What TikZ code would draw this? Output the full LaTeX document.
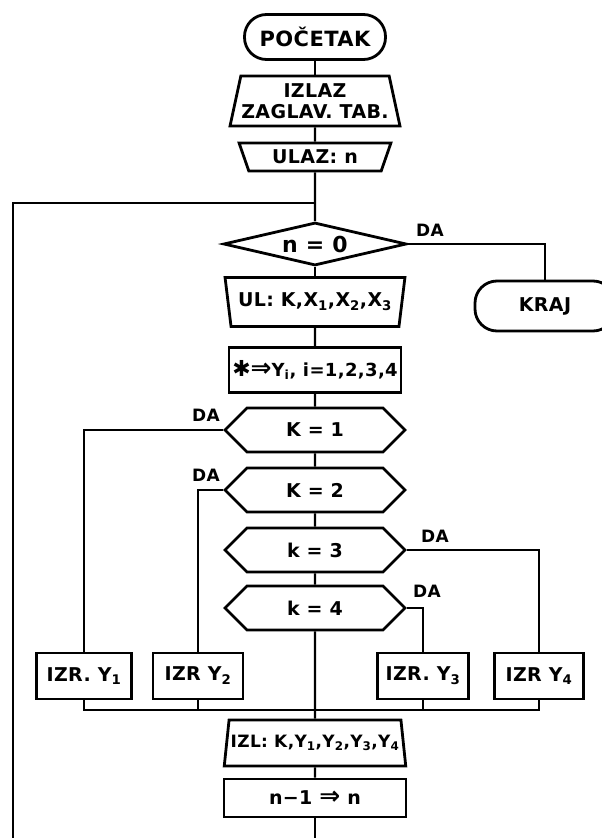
\documentclass[tikz,border=0pt]{standalone}
\usepackage{fontspec}
\setmainfont[LetterSpace=2]{DejaVu Sans}
\usetikzlibrary{positioning,shapes.geometric,shapes.symbols}

\newcommand{\bigimpl}{{\fontsize{25}{25}\selectfont ⇒}}

\begin{document}
\begin{tikzpicture}[
  x=1pt, y=-1pt,
  font=\fontsize{19}{21}\selectfont\bfseries,
  term/.style={draw, line width=2.8pt, rounded corners=22pt,
    minimum width=141pt, minimum height=45pt},
  outbox/.style={draw, line width=2.8pt, trapezium, trapezium stretches=true,
    trapezium left angle=73, trapezium right angle=73, align=center, inner sep=0pt},
  inbox/.style={outbox, shape border rotate=180},
  procbox/.style={draw, line width=2.8pt, minimum height=45pt, inner sep=1pt},
  cond/.style={draw, line width=2.8pt, diamond, aspect=4, inner sep=0pt,
    minimum width=183pt, minimum height=43pt},
  kcond/.style={draw, line width=2.8pt, signal, signal to=west and east,
    signal pointer angle=90, inner sep=0pt, minimum width=180pt, minimum height=44pt},
  wire/.style={line width=2.2pt},
  dalabel/.style={font=\fontsize{17}{18}\selectfont\bfseries, inner sep=1pt}
]
\useasboundingbox (0,0) rectangle (602,838);

% main column
\node[term, font=\fontsize{21}{23}\selectfont\bfseries] (start) at (315,37) {POČETAK};
\node[outbox, minimum width=170pt, minimum height=50pt] (izlaz) at (315,101) {IZLAZ\\ZAGLAV. TAB.};
\node[inbox, trapezium left angle=66, trapezium right angle=66,
  minimum width=153pt, minimum height=28pt] (ulaz) at (315,157) {ULAZ: n};
\coordinate (join) at (315,203);
\node[cond, font=\fontsize{22}{24}\selectfont\bfseries] (n0) at (315,244) {n = 0};
\node[term, minimum width=140pt, minimum height=50pt] (kraj) at (545,306) {KRAJ};
\node[inbox, minimum width=180pt, minimum height=49pt] (ul) at (315,302)
  {UL: K,X\textsubscript{1},X\textsubscript{2},X\textsubscript{3}};
\node[procbox, minimum width=172pt, font=\fontsize{18}{20}\selectfont\bfseries] (star) at (315,370)
  {{\fontsize{22}{22}\selectfont ✱}\bigimpl Y\textsubscript{i}, i=1,2,3,4};
\node[kcond] (k1) at (315,430) {K = 1};
\node[kcond] (k2) at (315,490) {K = 2};
\node[kcond] (k3) at (315,550) {k = 3};
\node[kcond] (k4) at (315,608) {k = 4};

% outputs
\node[procbox, minimum width=95pt, minimum height=46pt] (izr1) at (84,676) {IZR. Y\textsubscript{1}};
\node[procbox, minimum width=90pt, minimum height=46pt] (izr2) at (198,676) {IZR Y\textsubscript{2}};
\node[procbox, minimum width=91pt, minimum height=46pt] (izr3) at (423,676) {IZR. Y\textsubscript{3}};
\node[procbox, minimum width=89pt, minimum height=46pt] (izr4) at (539,676) {IZR Y\textsubscript{4}};
\coordinate (bus) at (315,710);

\node[outbox, minimum width=182pt, minimum height=46pt, font=\fontsize{17}{19}\selectfont\bfseries] (izl) at (315,743)
  {IZL: K,Y\textsubscript{1},Y\textsubscript{2},Y\textsubscript{3},Y\textsubscript{4}};
\node[procbox, minimum width=182pt, minimum height=38pt] (decr) at (315,798) {n−1 \bigimpl{} n};
\coordinate (corner) at (13,839);

% DA labels
\node[dalabel, anchor=south west] (da0) at ([xshift=7pt, yshift=6pt]n0.east) {DA};
\node[dalabel, anchor=south east] (da1) at ([xshift=-2pt, yshift=7pt]k1.west) {DA};
\node[dalabel, anchor=south east] (da2) at ([xshift=-2pt, yshift=7pt]k2.west) {DA};
\node[dalabel, anchor=south west] (da3) at ([xshift=13pt, yshift=6pt]k3.east) {DA};
\node[dalabel, anchor=south west] (da4) at ([xshift=5pt, yshift=9pt]k4.east) {DA};

% connectors
\draw[wire] (start) -- (izlaz);
\draw[wire] (izlaz) -- (ulaz);
\draw[wire] (ulaz) -- (n0);
\draw[wire] (n0) -- (ul);
\draw[wire] (ul) -- (star);
\draw[wire] (star) -- (k1);
\draw[wire] (k1) -- (k2);
\draw[wire] (k2) -- (k3);
\draw[wire] (k3) -- (k4);
\draw[wire] (k4) -- (izl);
\draw[wire] (izl) -- (decr);
\draw[wire] (n0.east) -| (kraj.north);
\draw[wire] (k1.west) -| (izr1.north);
\draw[wire] (k2.west) -| (izr2.north);
\draw[wire] (k3.east) -| (izr4.north);
\draw[wire] (k4.east) -| (izr3.north);
\draw[wire] (izr1.south) |- (izr4.south |- bus) -- (izr4.south);
\foreach \n in {izr2,izr3}
  \draw[wire] (\n.south) -- (\n.south |- bus);
% back to the start of the loop
\draw[wire] (decr) -- (decr |- corner) -- (corner) |- (join);
\end{tikzpicture}
\end{document}
